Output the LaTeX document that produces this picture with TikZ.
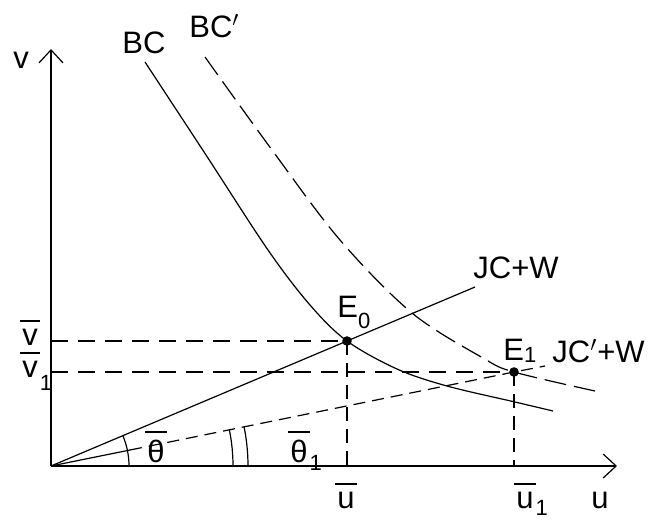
\documentclass[tikz,border=0pt]{standalone}
\usepackage{fontspec}
\setmainfont{Liberation Sans}
\usetikzlibrary{arrows.meta}
\newcommand\mybar[1]{\vbox{\hrule height 0.8pt\kern 3.5pt\hbox{\kern1pt#1\kern1pt}}}
\newcommand\mysub[2]{\raisebox{-#1}{\fontsize{11}{11}\selectfont #2}}
\begin{document}
\begin{tikzpicture}[x=0.5pt,y=-0.5pt,
  lbl/.style={inner sep=0pt,anchor=base west,font=\fontsize{15.5}{18}\selectfont},
  axis/.style={line width=1pt,-{Straight Barb[length=6.5pt,width=12pt,line width=0.6pt]}},
  curve/.style={line width=0.6pt},
  hguide/.style={line width=0.9pt,dash pattern=on 8.5pt off 5pt},
  vguide/.style={line width=0.6pt,dash pattern=on 7pt off 4pt},
  bcdash/.style={line width=0.6pt,dash pattern=on 11pt off 4pt},
  jcdash/.style={line width=0.6pt,dash pattern=on 6pt off 3.5pt},
  dot/.style={circle,fill,inner sep=0pt,minimum size=4.8pt}]
\useasboundingbox (0,0) rectangle (658,520);
% key points
\coordinate (O) at (51,466);
\coordinate (vtop) at (51,49);
\coordinate (uend) at (617,466);
\coordinate (vb) at (51,341);
\coordinate (v1b) at (51,372);
\coordinate (ub) at (347,466);
\coordinate (u1b) at (514,466);
\coordinate (jcend) at (475,287);
\coordinate (js) at (130,450);
\coordinate (jc1end) at (545,366);
\node[dot] (E0) at (347,341) {};
\node[dot] (E1) at (514,372) {};
% guides
\draw[hguide] (vb) -- (E0.center);
\draw[hguide] (v1b) -- (E1.center);
\draw[vguide] (E0.center) -- (ub);
\draw[vguide] (E1.center) -- (u1b);
% JC+W
\draw[curve] (O) -- (E0.center) -- (jcend);
% JC'+W
\draw[curve] (O) -- (js);
\draw[jcdash] (js) -- (E1.center) -- (jc1end);
% BC
\draw[curve] plot[smooth,tension=0.55] coordinates {(145,62) (206,155) (268,250) (310,305) (347,341) (397,369) (447,386) (515,402) (553,411)};
% BC'
\draw[bcdash] plot[smooth,tension=0.55] coordinates {(205,57) (272,150) (340,240) (412,313) (483,358) (514,372) (595,391)};
% angle arcs
\draw[curve] (O) ++(0:39pt) arc[start angle=0,end angle=23,radius=39pt];
\draw[curve] (O) ++(0:91pt) arc[start angle=0,end angle=11.5,radius=91pt];
\draw[curve] (O) ++(0:98.5pt) arc[start angle=0,end angle=11.5,radius=98.5pt];
% axes
\draw[axis] (O) -- (vtop);
\draw[axis] (O) -- (uend);
% labels
\node[lbl] (lv) at (13,68) {v};
\node[lbl] (lbc) at (122,53) {BC};
\node[lbl] (lbc1) at (189,37) {BC$'$};
\node[lbl] (ljc) at (473,278) {JC+W};
\node[lbl] (le0) at (337,317) {E\mysub{5.5pt}{0}};
\node[lbl] (le1) at (503,360) {E\mysub{1pt}{1}};
\node[lbl] (ljc1) at (552,362) {JC$'$+W};
\node[lbl] (lvb) at (20,345) {\mybar{v}};
\node[lbl] (lv1) at (20,377) {\mybar{v}\mysub{6.5pt}{1}};
\node[lbl] (lth) at (145,462) {\mybar{θ}};
\node[lbl] (lth1) at (288,462) {\mybar{θ}\mysub{4pt}{1}};
\node[lbl] (lub) at (335,508) {\mybar{u}};
\node[lbl] (lu1) at (514,508) {\mybar{u}\mysub{3.5pt}{1}};
\node[lbl] (lu) at (591,508) {u};
\end{tikzpicture}
\end{document}
